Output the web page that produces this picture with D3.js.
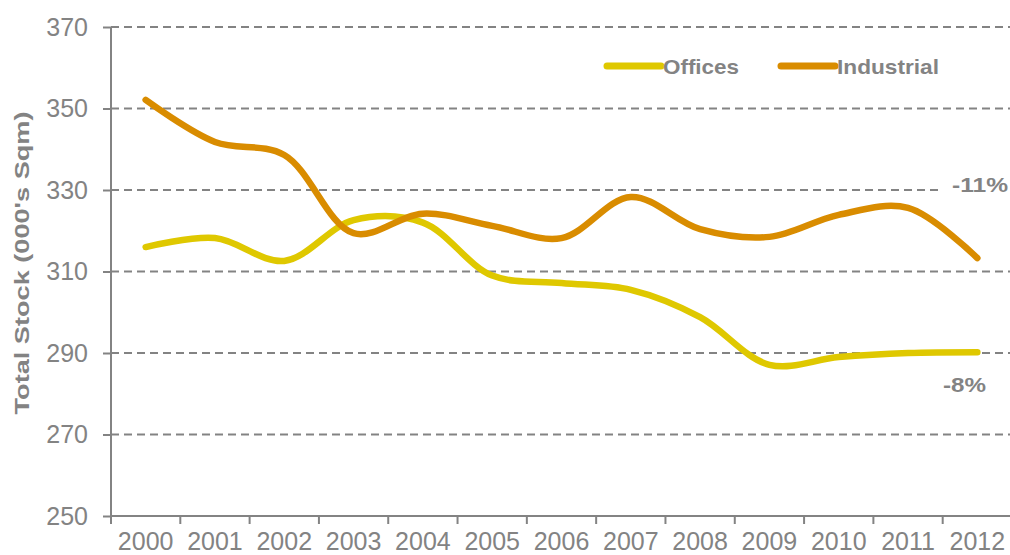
<!DOCTYPE html>
<html lang="en">
<head>
    <meta charset="UTF-8">
    <title>Total Stock - Offices vs Industrial</title>
    <script src="https://d3js.org/d3.v7.min.js"></script>
    <style>
        body {
            margin: 0;
            background: #fff;
            font-family: "Liberation Sans", Arial, sans-serif;
        }
        svg {
            display: block;
        }
    </style>
</head>
<body>

    <div id="container"></div>

    <script>
        // data
        const years = ['2000', '2001', '2002', '2003', '2004', '2005', '2006',
                       '2007', '2008', '2009', '2010', '2011', '2012'];
        const offices = [316.0, 318.2, 312.6, 322.6, 322.0, 309.0, 307.2,
                         305.5, 298.8, 287.1, 289.0, 290.0, 290.2];
        const industrial = [352.1, 341.8, 338.6, 319.4, 324.2, 321.2, 318.2,
                            328.3, 320.4, 318.5, 323.9, 325.6, 313.3];
        const yTicks = [250, 270, 290, 310, 330, 350, 370];
        const seriesNames = ['Offices', 'Industrial'];
        const seriesColors = ['#dfc800', '#d98c00'];
        const changeLabels = ['-8%', '-11%'];

        const width = 1010, height = 555;
        const grey = '#838383';

        const svg = d3.select('#container').append('svg')
            .attr('width', width)
            .attr('height', height);

        // scales
        const x = d3.scaleBand()
            .domain(years)
            .range([111, 1012]);

        const y = d3.scaleLinear()
            .domain([250, 370])
            .range([516, 27]);

        const cx = d => x(d) + x.bandwidth() / 2;

        // dashed gridlines
        svg.append('g')
            .selectAll('line')
            .data(yTicks.filter(t => t > 250))
            .enter()
            .append('line')
            .attr('x1', 111)
            .attr('x2', width)
            .attr('y1', d => y(d))
            .attr('y2', d => y(d))
            .attr('stroke', grey)
            .attr('stroke-width', 2)
            .attr('stroke-dasharray', '8,5');

        // y axis
        const yAxis = svg.append('g')
            .attr('transform', 'translate(111,0)')
            .call(d3.axisLeft(y).tickValues(yTicks).tickSize(8).tickPadding(15));
        yAxis.select('.domain').attr('stroke', grey).attr('stroke-width', 2)
            .attr('d', `M0,${y(370)}V${y(250) + 8}`);
        yAxis.selectAll('.tick line').attr('stroke', grey).attr('stroke-width', 2);
        yAxis.selectAll('.tick text')
            .attr('fill', grey)
            .style('font-size', '25px')
            .style('font-family', '"Liberation Sans", Arial, sans-serif');

        // x axis: labels at band centres, ticks at band boundaries
        const xAxis = svg.append('g')
            .attr('transform', `translate(0,${y(250)})`)
            .call(d3.axisBottom(x).tickSize(0).tickPadding(16));
        xAxis.select('.domain').attr('stroke', grey).attr('stroke-width', 2)
            .attr('d', `M111,0H${width}`);
        xAxis.selectAll('.tick text')
            .attr('fill', grey)
            .attr('dy', '0.71em')
            .style('font-size', '25px')
            .style('font-family', '"Liberation Sans", Arial, sans-serif');

        svg.append('g')
            .selectAll('line')
            .data(years.slice(1))
            .enter()
            .append('line')
            .attr('x1', d => x(d))
            .attr('x2', d => x(d))
            .attr('y1', y(250))
            .attr('y2', y(250) + 8)
            .attr('stroke', grey)
            .attr('stroke-width', 2);

        // y title
        svg.append('text')
            .attr('transform', `translate(29,${263}) rotate(-90)`)
            .attr('text-anchor', 'middle')
            .attr('fill', grey)
            .attr('font-weight', 'bold')
            .attr('font-size', '19.5px')
            .attr('textLength', 303)
            .attr('lengthAdjust', 'spacingAndGlyphs')
            .text("Total Stock (000's Sqm)");

        // change label over the 330 gridline (white box hides the dashes)
        svg.append('rect')
            .attr('x', 938)
            .attr('y', y(330) - 4)
            .attr('width', 72)
            .attr('height', 8)
            .attr('fill', '#fff');

        // lines
        const line = d3.line()
            .x((d, i) => cx(years[i]))
            .y(d => y(d))
            .curve(d3.curveCatmullRom.alpha(0.5));

        [offices, industrial].forEach((vals, k) => {
            svg.append('path')
                .datum(vals)
                .attr('d', line)
                .attr('fill', 'none')
                .attr('stroke', seriesColors[k])
                .attr('stroke-width', 6.5)
                .attr('stroke-linecap', 'round')
                .attr('stroke-linejoin', 'round');
        });

        // percentage labels
        svg.append('text')
            .attr('x', 986)
            .attr('y', 392)
            .attr('text-anchor', 'end')
            .attr('fill', grey)
            .attr('font-weight', 'bold')
            .attr('font-size', '21px')
            .attr('textLength', 43)
            .attr('lengthAdjust', 'spacingAndGlyphs')
            .text(changeLabels[0]);

        svg.append('text')
            .attr('x', 1008)
            .attr('y', 192)
            .attr('text-anchor', 'end')
            .attr('fill', grey)
            .attr('font-weight', 'bold')
            .attr('font-size', '21px')
            .attr('textLength', 56)
            .attr('lengthAdjust', 'spacingAndGlyphs')
            .text(changeLabels[1]);

        // legend
        const legendX = [607, 781];
        const legendW = [76, 102];
        const legend = svg.append('g')
            .selectAll('g')
            .data(seriesNames)
            .enter()
            .append('g')
            .attr('transform', (d, i) => `translate(${legendX[i]},66)`);

        legend.append('line')
            .attr('x1', 0)
            .attr('x2', 54)
            .attr('stroke', (d, i) => seriesColors[i])
            .attr('stroke-width', 7)
            .attr('stroke-linecap', 'round');

        legend.append('text')
            .attr('x', 56)
            .attr('y', 7.5)
            .attr('fill', grey)
            .attr('font-weight', 'bold')
            .attr('font-size', '21px')
            .attr('textLength', (d, i) => legendW[i])
            .attr('lengthAdjust', 'spacingAndGlyphs')
            .text(d => d);
    </script>

</body>
</html>
